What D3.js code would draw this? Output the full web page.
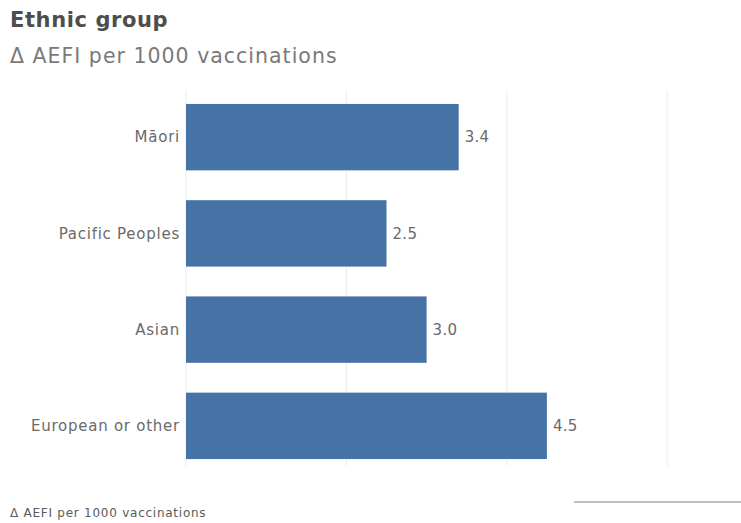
<!DOCTYPE html>
<html>
<head>
<meta charset="utf-8">
<script src="https://cdn.jsdelivr.net/npm/d3@7"></script>
<style>
  html, body { margin: 0; padding: 0; background: #fff; }
  svg { display: block; font-family: "DejaVu Sans", Lato, sans-serif; }
</style>
</head>
<body>
<svg id="chart" width="741" height="523"></svg>
<script>
// Ethnic group breakdown of AEFI per 1000 vaccinations
const categories = ["Māori", "Pacific Peoples", "Asian", "European or other"];
const values = [3.4, 2.5, 3.0, 4.5];
const tickValues = [0, 2, 4, 6];

const svg = d3.select("#chart");
const W = 741;
const margin = { top: 90, left: 186 };

const x = d3.scaleLinear().domain([0, 6.9]).range([margin.left, margin.left + 80.2 * 6.9]);
const y = d3.scaleBand().domain(categories)
  .range([margin.top, 473]).paddingInner(0.31).paddingOuter(0.145);

// Title block
svg.append("text").attr("x", 10).attr("y", 27)
  .attr("font-size", 21).attr("font-weight", 700).attr("fill", "#4d4d4d")
  .attr("letter-spacing", 0.6)
  .text("Ethnic group");
svg.append("text").attr("x", 10).attr("y", 63)
  .attr("font-size", 20.5).attr("fill", "#7a7a7a").attr("letter-spacing", 1.0)
  .text("Δ AEFI per 1000 vaccinations");

// Vertical gridlines
svg.append("g").selectAll("line").data(tickValues).join("line")
  .attr("x1", d => x(d)).attr("x2", d => x(d))
  .attr("y1", margin.top).attr("y2", 466)
  .attr("stroke", "#ececf0").attr("stroke-width", 1);

// Bars
svg.append("g").selectAll("rect").data(categories).join("rect")
  .attr("x", x(0)).attr("y", d => y(d))
  .attr("width", (d, i) => x(values[i]) - x(0))
  .attr("height", y.bandwidth())
  .attr("fill", "#4673a5");

// Category labels
svg.append("g").selectAll("text").data(categories).join("text")
  .attr("x", x(0) - 6).attr("y", d => y(d) + y.bandwidth() / 2)
  .attr("dy", "0.35em").attr("text-anchor", "end")
  .attr("font-size", 15).attr("fill", "#6a6a6a").attr("letter-spacing", 0.75)
  .text(d => d);

// Value labels
svg.append("g").selectAll("text").data(categories).join("text")
  .attr("x", (d, i) => x(values[i]) + 6).attr("y", d => y(d) + y.bandwidth() / 2)
  .attr("dy", "0.35em").attr("font-size", 15).attr("fill", "#6a6a6a")
  .attr("letter-spacing", 0.3)
  .text((d, i) => values[i].toFixed(1));

// Footer line and note
svg.append("line").attr("x1", 574).attr("x2", W).attr("y1", 502).attr("y2", 502)
  .attr("stroke", "#b9c2c2").attr("stroke-width", 2);
svg.append("text").attr("x", 10).attr("y", 517)
  .attr("font-size", 12).attr("fill", "#5a5a5a").attr("letter-spacing", 0.75)
  .text("Δ AEFI per 1000 vaccinations");
</script>
</body>
</html>
